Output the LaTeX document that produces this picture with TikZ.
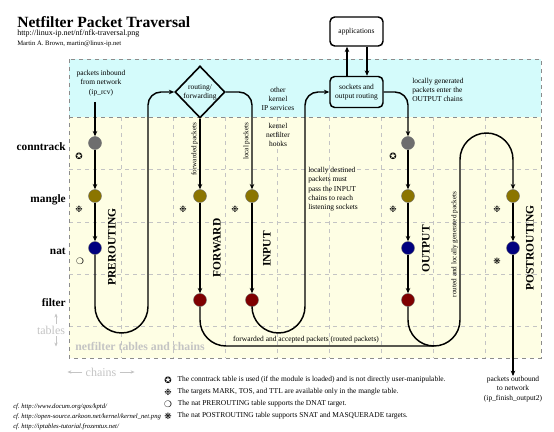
\documentclass[tikz,border=0pt]{standalone}
\usepackage{fontspec}
\setmainfont{Liberation Serif}
\newfontfamily\symfont{DejaVu Sans}
\usetikzlibrary{positioning,shapes.geometric,arrows.meta,calc}
\definecolor{skyfill}{HTML}{D4FBFB}
\definecolor{hookfill}{HTML}{FEFEE4}
\definecolor{ctgray}{HTML}{6E6E6E}
\definecolor{mgolive}{HTML}{8B7500}
\definecolor{ntnavy}{HTML}{00007F}
\definecolor{flred}{HTML}{7F0000}
\definecolor{faint}{HTML}{C4C4C4}
\definecolor{rim}{HTML}{8C8C8C}
\tikzset{
  tbl/.style={circle,draw=black!55,line width=0.3pt,minimum size=9.75pt,inner sep=0pt},
  ct/.style={tbl,fill=ctgray},
  mg/.style={tbl,fill=mgolive},
  nt/.style={tbl,fill=ntnavy},
  fi/.style={tbl,fill=flred},
  lbl/.style={align=center,inner sep=0pt,font=\fontsize{5.6}{7}\selectfont},
  rowname/.style={anchor=base east,inner sep=0pt,font=\fontsize{8.5}{9}\selectfont\bfseries},
  chain/.style={rotate=90,inner sep=0pt,font=\fontsize{8.6}{10}\selectfont\bfseries},
  side/.style={rotate=90,anchor=south,inner sep=1pt,font=\fontsize{5.4}{6}\selectfont},
  sym/.style={inner sep=0pt,font=\symfont\fontsize{6.6}{7}\selectfont},
  ref/.style={anchor=west,inner sep=0pt,font=\fontsize{5}{6}\selectfont\itshape},
  dimtext/.style={text=faint,inner sep=0pt,font=\fontsize{9}{10}\selectfont},
  dimarr/.style={-{Stealth[length=3pt,width=2.5pt]},draw=faint,line width=0.5pt},
  fl/.style={-{Stealth[length=4pt,width=3.4pt]},line width=1.1pt},
  ln/.style={line width=1.1pt},
  rbox/.style={rectangle,draw,line width=1.1pt,rounded corners=3.5pt,
    minimum width=39.75pt,align=center,font=\fontsize{5.6}{7}\selectfont},
  route/.style={diamond,draw,line width=1.2pt,aspect=1,inner sep=0pt,
    minimum width=37.5pt,minimum height=39pt,align=center,font=\fontsize{5.6}{7}\selectfont},
  grid/.style={draw=faint,dashed,line width=0.4pt},
  rimline/.style={draw=rim,dashed,line width=0.6pt},
}
\begin{document}
\begin{tikzpicture}[x=0.75pt,y=-0.75pt]
  \useasboundingbox (0,0) rectangle (554,432);
  % regions and grid
  \fill[skyfill] (69,59) rectangle (541,117);
  \fill[hookfill] (69,117) rectangle (541,358);
  \draw[grid] (69,169.5)--(541,169.5) (69,222)--(541,222) (69,274)--(541,274) (69,326)--(541,326);
  \draw[grid] (121,117)--(121,358) (173,117)--(173,358) (225,117)--(225,358) (277,117)--(277,358)
    (329,117)--(329,358) (381,117)--(381,358) (433,117)--(433,358) (485,117)--(485,358);
  \draw[rimline] (69,59) rectangle (541,358);
  \draw[rimline] (69,117) -- (541,117);

  % title
  \node[anchor=base west,inner sep=0pt,font=\fontsize{11.7}{13}\selectfont\bfseries] (title) at (17,27) {Netfilter Packet Traversal};
  \node[anchor=base west,inner sep=0pt,font=\fontsize{6}{7}\selectfont] (url) at (17,36) {http://linux-ip.net/nf/nfk-traversal.png};
  \node[anchor=base west,inner sep=0pt,font=\fontsize{5}{6}\selectfont] (author) at (17,45.5) {Martin A. Brown, martin@linux-ip.net};

  % row names
  \node[rowname] (rct) at (66,150) {conntrack};
  \node[rowname] (rmg) at (66,202) {mangle};
  \node[rowname] (rnt) at (66,254) {nat};
  \node[rowname] (rfi) at (66,306) {filter};
  \node[dimtext] (tbls) at (51,330) {tables};
  \draw[dimarr] ($(tbls.north)+(5,-2)$) -- ++(0,-10);
  \draw[dimarr] ($(tbls.south)+(5,2)$) -- ++(0,10);
  \node[dimtext] (chn) at (101,372) {chains};
  \draw[dimarr] ($(chn.west)+(-3,0)$) -- ++(-15,0);
  \draw[dimarr] ($(chn.east)+(3,0)$) -- ++(15,0);
  \node[dimtext,font=\fontsize{8.8}{10}\selectfont\bfseries] (ntc) at (140,346) {netfilter tables and chains};

  % upper boxes
  \node[lbl] (inb) at (101,83) {packets inbound\\from network\\(ip\_rcv)};
  \node[route] (rt) at (200,92) {routing/\\forwarding};
  \node[lbl] (other) at (278,99) {other\\kernel\\IP services};
  \node[lbl] (hooks) at (278,135) {kernel\\netfilter\\hooks};
  \node[rbox,minimum height=21.75pt] (app) at (356.5,31.5) {applications};
  \node[rbox,minimum height=23.25pt] (sock) at (356.5,92) {sockets and\\output routing};
  \node[lbl,align=left,anchor=west] (lgen) at (412,90) {locally generated\\packets enter the\\OUTPUT chains};
  \node[lbl,align=left,anchor=north west] (ldst) at (308,167) {locally destined\\packets must\\pass the INPUT\\chains to reach\\listening sockets};

  % tables
  \node[ct] (pc) at (95,143) {};
  \node[mg] (pm) at (95,196) {};
  \node[nt] (pn) at (95,248) {};
  \node[mg] (fm) at (200,196) {};
  \node[fi] (ff) at (200,300) {};
  \node[mg] (im) at (252,196) {};
  \node[fi] (inf) at (252,300) {};
  \node[ct] (oc) at (408,143) {};
  \node[mg] (om) at (408,196) {};
  \node[nt] (on) at (408,248) {};
  \node[fi] (of) at (408,300) {};
  \node[mg] (qm) at (513,196) {};
  \node[nt] (qn) at (513,248) {};
  \node[lbl] (outb) at (513,389) {packets outbound\\to network\\(ip\_finish\_output2)};

  % chain names
  \node[chain] (prename) at (112,247) {PREROUTING};
  \node[chain] (fwdname) at (217,248) {FORWARD};
  \node[chain] (inpname) at (267,249) {INPUT};
  \node[chain] (outname) at (426,249) {OUTPUT};
  \node[chain] (postname) at (530,248) {POSTROUTING};

  % PREROUTING
  \draw[fl] ($(inb.south -| pc)+(0,6)$) -- (pc);
  \draw[fl] (pc) -- (pm); \draw[fl] (pm) -- (pn);
  \draw[fl] (pn) -- (95,306.5) arc[start angle=180,end angle=0,radius=26.5]
    -- (148,105) arc[start angle=180,end angle=270,radius=13] -- (rt.west);
  % FORWARD
  \draw[fl] (rt.south) -- node[side,pos=0.43]{forwarded packets} (fm);
  \draw[fl] (fm) -- (ff);
  \draw[ln] (ff) -- (200,320) arc[start angle=180,end angle=90,radius=26]
    -- node[lbl,above=2pt,pos=0.385]{forwarded and accepted packets (routed packets)} (434,346);
  % INPUT
  \draw[fl] (rt.east) -- (239,92) arc[start angle=270,end angle=360,radius=13]
    -- node[side,pos=0.43]{local packets} (im);
  \draw[fl] (im) -- (inf);
  \draw[fl] (inf) -- (252,306.5) arc[start angle=180,end angle=0,radius=26.5]
    -- (305,105) arc[start angle=180,end angle=270,radius=13] -- (sock.west);
  % sockets and applications
  \draw[fl] ($(sock.north)+(-9.5,0)$) -- ($(app.south)+(-9.5,0)$);
  \draw[fl] ($(app.south)+(10.5,0)$) -- ($(sock.north)+(10.5,0)$);
  % OUTPUT
  \draw[fl] (sock.east) -- (395,92) arc[start angle=270,end angle=360,radius=13] -- (oc);
  \draw[fl] (oc) -- (om); \draw[fl] (om) -- (on); \draw[fl] (on) -- (of);
  \draw[fl] (of) -- (408,320) arc[start angle=180,end angle=0,radius=26]
    -- node[side,pos=0.47]{routed and locally generated packets} (460,159.5)
    arc[start angle=180,end angle=360,radius=26.5] -- (qm);
  % POSTROUTING
  \draw[fl] (qm) -- (qn);
  \draw[fl] (qn) -- (outb.north);

  % marks
  \node[sym] (kpc) at (79,156) {✪};
  \node[sym] (koc) at (393,156) {✪};
  \node[sym] (kpm) at (79,209) {❉};
  \node[sym] (kfm) at (183,209) {❉};
  \node[sym] (kim) at (235,209) {❉};
  \node[sym] (kom) at (393,209) {❉};
  \node[sym] (kqm) at (497,209) {❉};
  \node[sym] (kpn) at (80,261) {❍};
  \node[sym] (kqn) at (497,261) {❋};

  % legend
  \node[sym] (k1) at (168,380) {✪};
  \node[sym] (k2) at (168,392) {❉};
  \node[sym] (k3) at (168,404) {❍};
  \node[sym] (k4) at (168,416) {❋};
  \node[lbl,right=4pt of k1] (t1) {The conntrack table is used (if the module is loaded) and is not directly user-manipulable.};
  \node[lbl,right=4pt of k2] (t2) {The targets MARK, TOS, and TTL are available only in the mangle table.};
  \node[lbl,right=4pt of k3] (t3) {The nat PREROUTING table supports the DNAT target.};
  \node[lbl,right=4pt of k4] (t4) {The nat POSTROUTING table supports SNAT and MASQUERADE targets.};

  % references
  \node[ref] (ref1) at (13,407) {cf.\ http://www.docum.org/qos/kptd/};
  \node[ref] (ref2) at (13,417) {cf.\ http://open-source.arkoon.net/kernel/kernel\_net.png};
  \node[ref] (ref3) at (13,427) {cf.\ http://iptables-tutorial.frozentux.net/};
\end{tikzpicture}
\end{document}
